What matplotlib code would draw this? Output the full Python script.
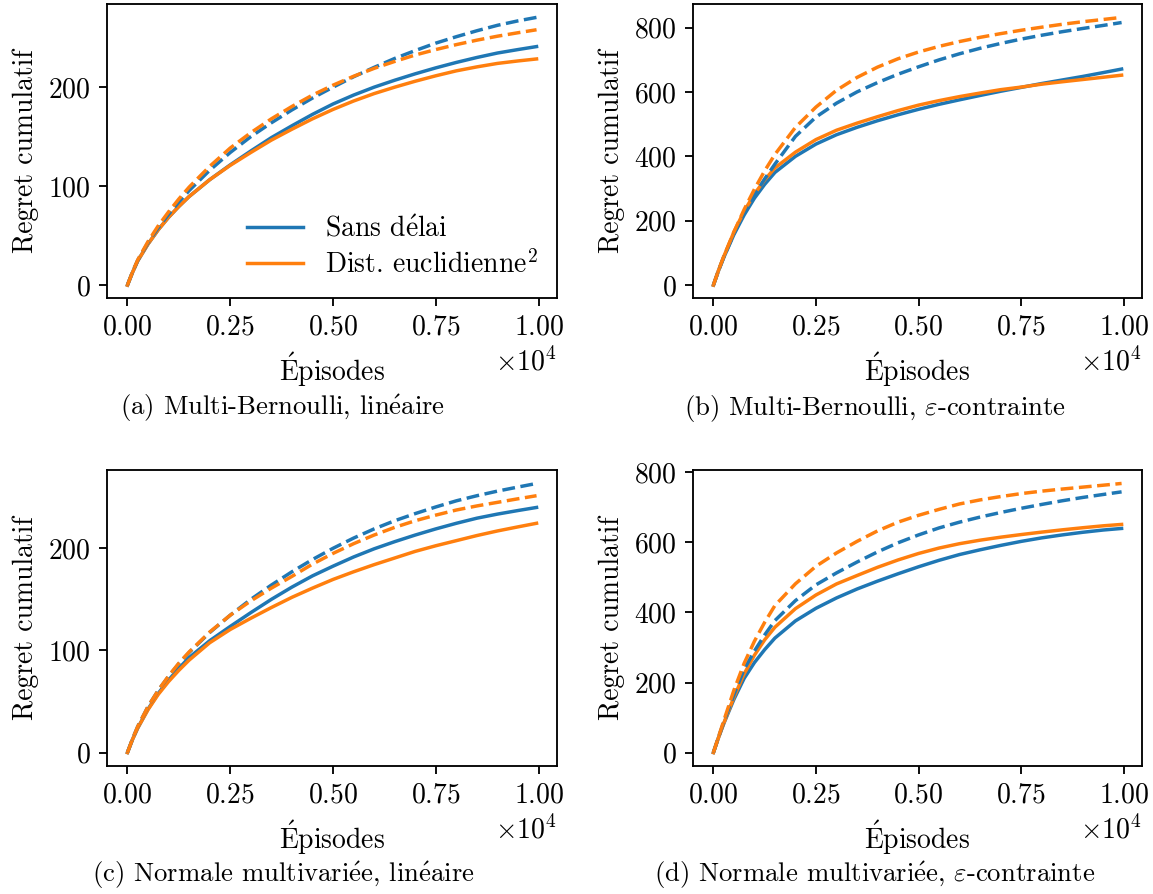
import numpy as np
import matplotlib
matplotlib.use("Agg")
import matplotlib.pyplot as plt
from matplotlib.ticker import MultipleLocator

plt.rcParams['font.family'] = ['cmr10', 'DejaVu Serif']
plt.rcParams['mathtext.fontset'] = 'cm'
plt.rcParams['axes.formatter.use_mathtext'] = True
plt.rcParams['axes.unicode_minus'] = False
plt.rcParams['font.size'] = 12

# Episodes
episodes = [0, 125, 250, 500, 750, 1000, 1250, 1500, 2000, 2500, 3000, 3500, 4000,
            4500, 5000, 5500, 6000, 6500, 7000, 7500, 8000, 8500, 9000, 9500, 9950]

# (a) Multi-Bernoulli, linéaire
a_sans_solid = [0, 13, 24.5, 41.5, 56, 68.5, 79.5, 89.5, 106.5, 121.5, 135.5, 149, 161,
                172.5, 183, 192, 200, 207, 213.5, 219.5, 225, 230, 234.5, 238, 241]
a_dist_solid = [0, 13, 24.5, 41.5, 56, 68.5, 79.5, 89.5, 106.5, 121, 134, 146.5, 157.5,
                168, 177.5, 186, 193.5, 200, 206, 211.5, 216.5, 220.5, 224, 226.5, 228.5]
a_sans_dash = [0, 13.5, 25, 43, 58, 71.5, 84, 95.5, 116, 134, 150, 164, 177,
               189, 200, 210.5, 220, 229, 237, 244.5, 251, 257, 262.5, 267, 270.5]
a_dist_dash = [0, 13.5, 25.5, 44, 60, 74, 87, 99, 120, 138.5, 154, 168, 180.5,
               192, 202, 211, 219, 226, 232.5, 238, 243, 247.5, 251.5, 255, 258]

# (b) Multi-Bernoulli, epsilon-contrainte
b_sans_solid = [0, 45, 85, 157, 218, 270, 313, 350, 400, 438, 467, 490, 510.5,
                529, 546, 561.5, 575.5, 589, 602, 614, 626, 637, 648, 660, 671]
b_dist_solid = [0, 46, 88, 165, 230, 283, 327, 364, 413, 452, 481, 503, 523,
                542, 559, 573, 585.5, 596.5, 607, 615, 624, 631.5, 638.5, 645.5, 652]
b_sans_dash = [0, 45, 86, 160, 225, 280, 330, 376, 462, 522, 565, 600, 629,
               655, 678, 699.5, 718.5, 735.5, 750.5, 764, 776, 787, 797, 806.5, 815.5]
b_dist_dash = [0, 46, 88, 165, 235, 298, 355, 406, 490, 553, 605, 645, 677,
               703, 724, 741.5, 756.5, 769.5, 781, 791.5, 801, 810, 818, 825, 831.5]

# (c) Normale multivariée, linéaire
c_sans_solid = [0, 13, 24, 42.5, 58, 71, 82.5, 93, 109.5, 123.5, 137, 150, 162,
                173, 182.5, 191.5, 199.5, 206.5, 213, 219, 224.5, 229.5, 233.5, 237, 240]
c_dist_solid = [0, 13, 24, 42, 57, 69.5, 80.5, 90.5, 107.5, 120.5, 131.5, 142, 152,
                161, 169.5, 177, 184, 190.5, 197, 202.5, 207.5, 212.5, 217, 221, 224.5]
c_sans_dash = [0, 13.5, 25.5, 45, 61, 74.5, 87, 98, 117.5, 134.5, 150, 164, 177,
               189, 200, 210, 219, 227, 234, 240.5, 246.5, 251.5, 256, 260, 263.5]
c_dist_dash = [0, 13.5, 25.5, 45, 61, 75, 87.5, 98.5, 118, 134.5, 148.5, 161, 172.5,
               184.5, 195, 204.5, 213, 220.5, 227, 232.5, 237.5, 241.5, 245, 248.5, 251.5]

# (d) Normale multivariée, epsilon-contrainte
d_sans_solid = [0, 43, 82, 152, 212, 257, 294, 327, 376, 412, 441.5, 467, 489.5,
                510.5, 530.5, 549, 565.5, 579, 591.5, 603, 613, 621.5, 629, 635.5, 640]
d_dist_solid = [0, 43, 83, 158, 225, 278, 322, 358, 411, 450, 481.5, 505.5, 529,
                550, 568.5, 584, 596.5, 606.5, 615, 622.5, 629.5, 636, 642, 647.5, 651.5]
d_sans_dash = [0, 44, 86, 165, 238, 290, 336, 377, 434, 479, 513, 544, 573,
               599, 621.5, 641.5, 658, 672.5, 685.5, 697.5, 708.5, 719, 728.5, 737, 744.5]
d_dist_dash = [0, 45, 90, 178, 255, 318, 372, 420, 482, 532, 570, 603, 633,
               658, 677.5, 694.5, 710, 721.5, 731, 739.5, 746.5, 752.5, 758, 763.5, 768.5]

E_ACUTE = r"$\mathrm{\acute{e}}$"
legend_labels = ["Sans d" + E_ACUTE + "lai", "Dist. euclidienne$^2$"]
xlabel_text = r"$\mathrm{\acute{E}}$pisodes"
ylabel_text = "Regret cumulatif"
captions = ["(a) Multi-Bernoulli, lin" + E_ACUTE + "aire",
            r"(b) Multi-Bernoulli, $\varepsilon$-contrainte",
            "(c) Normale multivari" + E_ACUTE + "e, lin" + E_ACUTE + "aire",
            "(d) Normale multivari" + E_ACUTE + r"e, $\varepsilon$-contrainte"]
ytick_steps = [100, 200, 100, 200]

panels = [
    (a_sans_solid, a_dist_solid, a_sans_dash, a_dist_dash),
    (b_sans_solid, b_dist_solid, b_sans_dash, b_dist_dash),
    (c_sans_solid, c_dist_solid, c_sans_dash, c_dist_dash),
    (d_sans_solid, d_dist_solid, d_sans_dash, d_dist_dash),
]

W, H = 1153, 894
DPI = 166
fig = plt.figure(figsize=(W / DPI, H / DPI), dpi=DPI)

# axes boxes in pixels: left, top, right, bottom
boxes = [(107, 4, 557, 298.5), (693, 4, 1142, 298.5),
         (107, 470, 557, 766), (693, 470, 1142, 766)]
caption_pos = [(283, 408), (875, 408), (283, 875), (875, 875)]

blue = '#1f77b4'
orange = '#ff7f0e'
x = np.array(episodes)

for i, (box, data) in enumerate(zip(boxes, panels)):
    l, t, r, b = box
    ax = fig.add_axes([l / W, 1 - b / H, (r - l) / W, (b - t) / H])
    ss, ds, sd, dd = data
    ax.plot(x, ss, color=blue, lw=1.5, label=legend_labels[0])
    ax.plot(x, ds, color=orange, lw=1.5, label=legend_labels[1])
    ax.plot(x, sd, color=blue, lw=1.5, ls='--')
    ax.plot(x, dd, color=orange, lw=1.5, ls='--')
    ax.xaxis.set_major_locator(MultipleLocator(2500))
    ax.yaxis.set_major_locator(MultipleLocator(ytick_steps[i]))
    ax.ticklabel_format(axis='x', style='sci', scilimits=(0, 0), useMathText=True)
    ax.set_xlabel(xlabel_text)
    ax.set_ylabel(ylabel_text)
    if i == 0:
        ax.legend(loc='lower right', frameon=False, labelspacing=0.3,
                  borderaxespad=0.3)
    cx, cy = caption_pos[i]
    fig.text(cx / W, 1 - cy / H, captions[i], ha='center', va='center',
             fontsize=11.6)

fig.savefig("out.png", dpi=DPI)
